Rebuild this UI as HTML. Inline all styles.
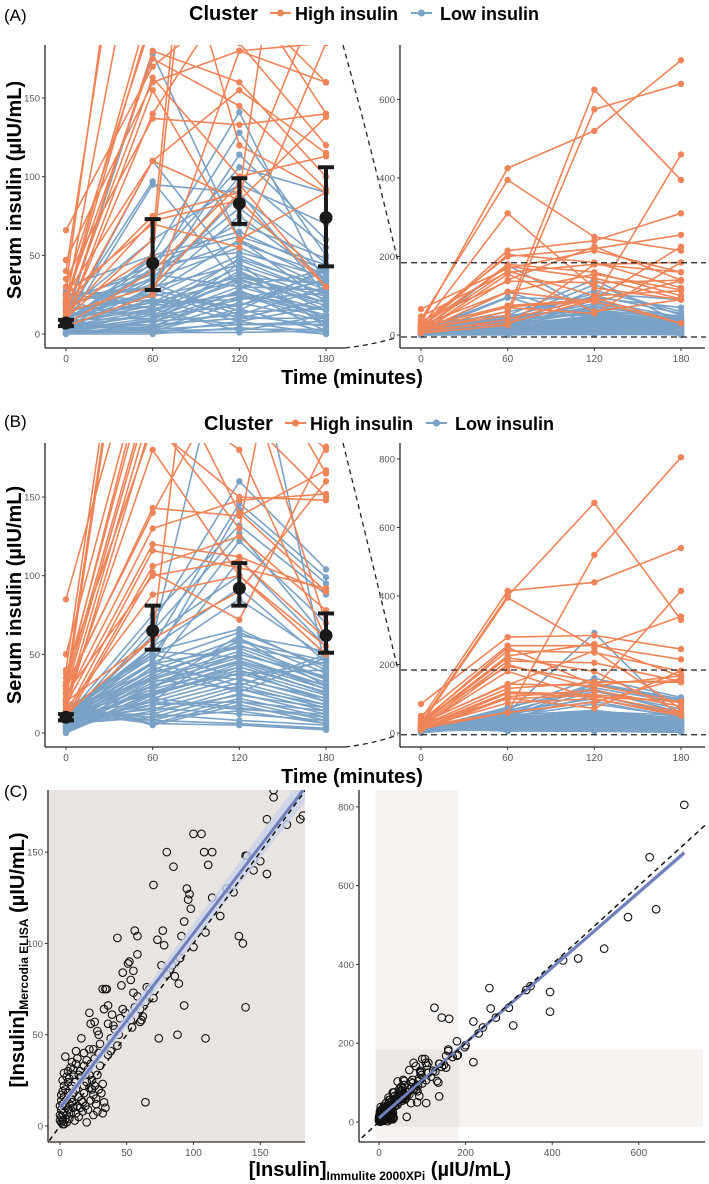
<!DOCTYPE html>
<html><head><meta charset="utf-8">
<style>
html,body{margin:0;padding:0;background:#fff;}
svg{display:block;font-family:"Liberation Sans",Arial,sans-serif;}
</style></head>
<body>
<svg id="fig" width="709" height="1184" viewBox="0 0 709 1184" xmlns="http://www.w3.org/2000/svg">
<defs>
<clipPath id="cAL"><rect x="46" y="45" width="299" height="302"/></clipPath>
<clipPath id="cAR"><rect x="401" y="45" width="305" height="302"/></clipPath>
<clipPath id="cBL"><rect x="46" y="443" width="299" height="303"/></clipPath>
<clipPath id="cBR"><rect x="401" y="443" width="305" height="303"/></clipPath>
<clipPath id="cCL"><rect x="49" y="790" width="256" height="351"/></clipPath>
<clipPath id="cCR"><rect x="360" y="790" width="346" height="351"/></clipPath>
</defs>

<text x="4" y="21" font-size="17">(A)</text>
<text x="4" y="427" font-size="17">(B)</text>
<text x="4" y="797" font-size="17">(C)</text>

<g>
  <text x="189" y="20" font-size="20" font-weight="bold">Cluster</text>
  <g>
    <line x1="270" y1="13" x2="291" y2="13" stroke="#ee8457" stroke-width="2"/><circle cx="280.5" cy="13" r="3.5" fill="#ee8457"/>
    <text x="295" y="20" font-size="18" font-weight="bold">High insulin</text>
  </g>
  <g>
    <line x1="411" y1="13" x2="432" y2="13" stroke="#7aa2c6" stroke-width="2"/><circle cx="421.5" cy="13" r="3.5" fill="#7aa2c6"/>
    <text x="440" y="20" font-size="18" font-weight="bold">Low insulin</text>
  </g>
</g>
<g>
  <text x="204" y="430" font-size="20" font-weight="bold">Cluster</text>
  <g>
    <line x1="285" y1="423" x2="306" y2="423" stroke="#ee8457" stroke-width="2"/><circle cx="295.5" cy="423" r="3.5" fill="#ee8457"/>
    <text x="310" y="430" font-size="18" font-weight="bold">High insulin</text>
  </g>
  <g>
    <line x1="426" y1="423" x2="447" y2="423" stroke="#7aa2c6" stroke-width="2"/><circle cx="436.5" cy="423" r="3.5" fill="#7aa2c6"/>
    <text x="455" y="430" font-size="18" font-weight="bold">Low insulin</text>
  </g>
</g>

<text transform="translate(21,190) rotate(-90)" text-anchor="middle" font-size="20" font-weight="bold">Serum insulin (µIU/mL)</text>
<text transform="translate(21,595) rotate(-90)" text-anchor="middle" font-size="20" font-weight="bold">Serum insulin (µIU/mL)</text>
<text x="352" y="384" text-anchor="middle" font-size="20" font-weight="bold">Time (minutes)</text>
<text x="352" y="783" text-anchor="middle" font-size="20" font-weight="bold">Time (minutes)</text>
<text transform="translate(24,960) rotate(-90)" text-anchor="middle" font-weight="bold"><tspan font-size="20">[Insulin]</tspan><tspan font-size="12" dy="4">Mercodia ELISA</tspan><tspan font-size="20" dy="-4"> (µIU/mL)</tspan></text>
<text x="380" y="1176" text-anchor="middle" font-weight="bold"><tspan font-size="20">[Insulin]</tspan><tspan font-size="12" dy="4">Immulite 2000XPi</tspan><tspan font-size="20" dy="-4"> (µIU/mL)</tspan></text>

<path d="M343,45 Q372,150 398,262" fill="none" stroke="#222" stroke-width="1.3" stroke-dasharray="5,4"/>
<path d="M345,348 Q372,345 398,337" fill="none" stroke="#222" stroke-width="1.3" stroke-dasharray="5,4"/>
<path d="M343,443 Q372,560 398,670" fill="none" stroke="#222" stroke-width="1.3" stroke-dasharray="5,4"/>
<path d="M345,747 Q372,744 398,735" fill="none" stroke="#222" stroke-width="1.3" stroke-dasharray="5,4"/>

<g id="root"></g>
</svg>

<script>
const timesA = [0, 60, 120, 180];
const highA = [[30,425,520,700],[40,395,250,215],[20,310,120,90],[10,60,625,395],[15,50,575,640],[20,215,240,310],[30,200,220,255],[66,170,215,160],[47,160,180,185],[35,137,133,140],[25,110,155,115],[20,75,90,460],[12,72,85,138],[22,175,145,92],[15,163,100,113],[8,155,60,90],[5,25,180,160],[10,110,85,30],[18,205,185,120],[12,180,160,100],[9,140,225,140],[6,40,95,30],[25,70,55,185],[14,30,90,225]];
const lowA = [[10,178,60,20],[8,110,40,15],[12,97,30,40],[6,95,90,25],[5,50,141,30],[10,40,128,50],[3,30,114,60],[8,45,106,90],[4,35,100,55],[15,60,95,70],[20,30,88,45],[25,28,75,35],[30,50,65,40],[22,40,58,38],[18,35,55,30],[12,25,50,28],[9,20,47,25],[7,18,42,22],[5,15,38,20],[4,12,35,18],[3,10,30,15],[2,8,27,12],[1,5,24,10],[0,3,20,8],[6,22,18,35],[8,28,15,42],[10,32,12,30],[14,26,10,22],[16,22,8,18],[11,18,25,12],[13,14,33,10],[9,10,40,6],[6,6,45,4],[4,4,28,2],[2,2,16,1],[1,1,8,0],[0,0,4,0],[3,8,12,5],[5,12,6,8],[7,16,2,12],[12,20,22,26],[15,24,36,32],[18,38,30,28],[20,44,52,36],[24,30,44,26],[28,20,34,20],[26,16,26,15],[8,48,62,44],[6,42,70,48],[10,36,80,38],[4,26,60,34],[2,14,48,30],[1,9,36,24],[0,4,14,16],[3,6,10,10],[5,3,6,6],[7,2,3,3],[9,1,1,2],[17,12,18,40],[21,8,22,34]];
const meanA = [7,45,83,74];
const loA = [5,28,70,43];
const hiA = [9,73,99,106];

const timesB = [0, 60, 120, 180];
const highB = [[40,415,440,540],[30,400,672,330],[20,60,520,805],[25,395,250,340],[85,280,285,245],[50,255,255,215],[35,240,235,180],[30,225,260,165],[20,210,205,150],[15,200,130,415],[38,195,150,148],[28,143,138,167],[22,130,148,152],[18,120,112,90],[12,116,105,92],[10,106,125,78],[8,102,72,182],[25,100,110,60],[15,88,100,55],[30,140,240,70],[12,60,90,160],[20,180,100,50],[32,250,140,90],[26,220,180,60]];
const lowB = [[10,60,292,40],[8,70,160,104],[5,55,146,99],[12,45,142,95],[10,75,132,88],[6,65,127,60],[14,50,122,70],[9,40,110,55],[7,62,100,50],[11,55,92,45],[13,48,85,48],[15,52,66,40],[12,45,64,42],[10,40,60,38],[8,38,56,35],[6,35,52,32],[5,32,48,30],[4,30,45,28],[3,28,42,26],[2,25,40,24],[1,22,38,22],[6,20,35,20],[8,18,32,18],[10,15,30,16],[12,12,28,14],[14,10,25,12],[16,8,22,10],[18,6,20,8],[20,5,18,6],[9,50,36,45],[7,45,30,50],[5,42,26,48],[4,38,55,44],[3,34,50,36],[2,30,46,30],[1,26,44,25],[0,24,40,20],[5,20,15,12],[7,16,12,8],[9,12,8,5],[11,8,6,3],[13,6,5,2],[6,28,62,52],[8,36,58,46],[10,44,54,34],[12,52,48,28],[14,40,34,22],[16,34,28,18],[4,14,24,16],[3,18,20,14],[2,22,16,10],[6,10,14,6],[8,26,38,40],[10,30,50,36],[12,20,60,30],[14,24,42,26]];
const meanB = [10,65,92,62];
const loB = [8,53,81,51];
const hiB = [12,81,108,76];

const immulite = [705,625,640,575,520,460,425,255,258,395,395,310,218,240,128,145,162,180,198,160,182,218,155,140,100,108,80,85,70,106,114,111,155,139,160,180,95,97,96,98,93,91,109,114,134,137,139,109,88,74,93,89,86,80,76,77,73,78,56,58,43,58,51,52,47,55,53,55,46,32,34,35,65,61,60,58,56,60,54,64,36,33,22,26,23,28,29,36,39,40,47,44,43,38,36,30,25,22,16,12,4,13,20,18,9,8,10,14,16,24,28,30,32,26,24,22,27,33,34,32,28,25,20,17,14,12,10,9,8,6,4,3,2,1,2,3,1,2,4,5,6,7,5,3,2,1,0,1,3,5,7,8,10,12,14,16,18,20,22,18,15,11,9,7,6,4,2,1,0,0,2,11,13,15,17,19,21,23,25,27,29,31,21,19,23,26,29,18,12,10,6,5,3,38,41,45,49,53,62,70,67,64,84,90,100,120,125,130,145,150,170,200,230,270,300,340,350];
const mercodia = [805,672,540,520,440,415,410,340,288,330,280,245,255,240,290,265,262,205,190,180,170,152,168,148,160,150,150,142,132,160,150,143,138,148,184,168,130,127,124,119,112,104,106,125,104,100,65,48,50,48,66,78,82,83,88,107,102,99,107,104,103,94,89,90,84,85,80,73,77,75,75,75,76,58,57,71,65,64,54,13,66,64,62,57,56,52,50,56,61,55,64,50,44,41,39,45,42,42,48,41,38,37,36,33,35,32,31,28,27,25,28,33,23,22,20,21,15,13,10,7,8,6,2,8,5,7,10,13,15,18,20,22,25,17,12,8,5,3,4,6,9,12,14,16,19,9,6,2,1,2,4,7,18,20,16,14,18,24,28,22,30,24,22,26,24,11,7,14,11,3,1,3,11,10,13,11,9,14,17,12,20,18,31,28,34,37,40,40,34,28,30,27,29,48,53,59,62,58,60,70,75,68,88,92,98,115,130,128,140,145,165,195,225,265,290,335,345];
const fitIntercept = 10;
const fitSlope = 0.955;

const tX = t => 66 + t * 260 / 180;
const tXR = t => 421 + t * 260 / 180;
const yAL = v => 334 - v * 1.573;
const yAR = v => 335 - v * 0.3925;
const yBL = v => 733 - v * 1.573;
const yBR = v => 733 - v * 0.3425;
const cxL = v => 60 + v * 1.335;
const cyL = v => 1126 - v * 1.826;
const cxR = v => 379 + v * 0.433;
const cyR = v => 1122 - v * 0.394;

const NS = 'http://www.w3.org/2000/svg';
const root = document.getElementById('root');
function el(tag, parent) { const e = document.createElementNS(NS, tag); parent.appendChild(e); return e; }
function set(e, o) { for (const k in o) e.setAttribute(k, o[k]); return e; }

const ORANGE = '#ee8457', BLUE = '#7aa2c6';

function axes(g, x0, x1, yBase, yTop, xticks, xfn, yticks, yfn, nameP) {
  const ax = el('g', g);
  
  
  set(el('line', ax), {x1: x0, y1: yTop, x2: x0, y2: yBase, stroke: '#222', 'stroke-width': 1.3});
  set(el('line', ax), {x1: x0, y1: yBase, x2: x1, y2: yBase, stroke: '#222', 'stroke-width': 1.3});
  xticks.forEach(t => {
    const x = xfn(t);
    set(el('line', ax), {x1: x, y1: yBase, x2: x, y2: yBase + 3, stroke: '#333'});
    const tx = el('text', ax);
    
    
    set(tx, {x: x, y: yBase + 14, 'text-anchor': 'middle', 'font-size': 10, fill: '#555'});
    tx.textContent = t;
  });
  yticks.forEach(t => {
    const y = yfn(t);
    set(el('line', ax), {x1: x0 - 3, y1: y, x2: x0, y2: y, stroke: '#333'});
    const tx = el('text', ax);
    
    
    set(tx, {x: x0 - 5, y: y + 3.5, 'text-anchor': 'end', 'font-size': 9.5, fill: '#555'});
    tx.textContent = t;
  });
}

function spaghetti(times, high, low, xfn, yfn, clip, nameP, withMeans, mean, lo, hi) {
  const g = el('g', root);
  
  
  g.setAttribute('clip-path', 'url(#' + clip + ')');
  const draw = (rows, col, nm) => rows.forEach(r => {
    const pl = el('polyline', g);
    
    
    set(pl, {points: r.map((v, i) => xfn(times[i]) + ',' + yfn(v)).join(' '), fill: 'none', stroke: col, 'stroke-width': 1.6});
    r.forEach((v, i) => {
      const c = el('circle', g);
      
      
      set(c, {cx: xfn(times[i]), cy: yfn(v), r: 3.2, fill: col});
    });
  });
  draw(low, BLUE, 'low-insulin');
  draw(high, ORANGE, 'high-insulin');
  if (withMeans) {
    mean.forEach((m, i) => {
      const x = xfn(times[i]);
      const eb = el('g', g);
      
      
      set(el('line', eb), {x1: x, y1: yfn(lo[i]), x2: x, y2: yfn(hi[i]), stroke: '#1a1a1a', 'stroke-width': 4});
      set(el('line', eb), {x1: x - 8, y1: yfn(lo[i]), x2: x + 8, y2: yfn(lo[i]), stroke: '#1a1a1a', 'stroke-width': 4});
      set(el('line', eb), {x1: x - 8, y1: yfn(hi[i]), x2: x + 8, y2: yfn(hi[i]), stroke: '#1a1a1a', 'stroke-width': 4});
      set(el('circle', eb), {cx: x, cy: yfn(m), r: 6.5, fill: '#1a1a1a'});
    });
  }
}

axes(root, 45, 345, 348, 45, timesA, tX, [0, 50, 100, 150], yAL, 'panel-a-left');
spaghetti(timesA, highA, lowA, tX, yAL, 'cAL', 'panel-a-left', true, meanA, loA, hiA);
axes(root, 400, 705, 348, 45, timesA, tXR, [0, 200, 400, 600], yAR, 'panel-a-right');
spaghetti(timesA, highA, lowA, tXR, yAR, 'cAR', 'panel-a-right', false);
axes(root, 45, 345, 747, 443, timesB, tX, [0, 50, 100, 150], yBL, 'panel-b-left');
spaghetti(timesB, highB, lowB, tX, yBL, 'cBL', 'panel-b-left', true, meanB, loB, hiB);
axes(root, 400, 705, 747, 443, timesB, tXR, [0, 200, 400, 600, 800], yBR, 'panel-b-right');
spaghetti(timesB, highB, lowB, tXR, yBR, 'cBR', 'panel-b-right', false);

[[yAR, 'a'], [yBR, 'b']].forEach(([f, p]) => {
  [184, -5].forEach(v => {
    const l = el('line', root);
    
    
    set(l, {x1: 401, y1: f(v), x2: 706, y2: f(v), stroke: '#222', 'stroke-width': 1.3, 'stroke-dasharray': '6,4'});
  });
});

const bgL = el('rect', root);


set(bgL, {x: 49, y: 790, width: 256, height: 351, fill: '#e9e4e0'});
const bandV = el('rect', root);


set(bandV, {x: cxR(-8), y: 790, width: cxR(184) - cxR(-8), height: 351, fill: '#f5f2f0'});
const bandH = el('rect', root);


set(bandH, {x: cxR(-8), y: cyR(184), width: 703 - cxR(-8), height: cyR(-12) - cyR(184), fill: '#f5f2f0'});
const bandO = el('rect', root);


set(bandO, {x: cxR(-8), y: cyR(184), width: cxR(184) - cxR(-8), height: cyR(-12) - cyR(184), fill: '#ece7e3'});

function scatter(xfn, yfn, clip, nameP, xmin, xmax) {
  const g = el('g', root);
  
  
  g.setAttribute('clip-path', 'url(#' + clip + ')');
  immulite.forEach((v, i) => {
    const c = el('circle', g);
    
    
    set(c, {cx: xfn(v), cy: yfn(mercodia[i]), r: 3.8, fill: 'none', stroke: '#111', 'stroke-width': 1.1});
  });
  const band = el('polygon', g);
  
  
  const f = v => fitIntercept + fitSlope * v;
  set(band, {points: [xfn(0) + ',' + yfn(f(0) + 2), xfn(xmax) + ',' + yfn(f(xmax) + 8), xfn(xmax) + ',' + yfn(f(xmax) - 8), xfn(0) + ',' + yfn(f(0) - 2)].join(' '), fill: '#c9d2ea', opacity: 0.8});
  const fit = el('line', g);
  
  
  set(fit, {x1: xfn(0), y1: yfn(f(0)), x2: xfn(xmax), y2: yfn(f(xmax)), stroke: '#6f80bb', 'stroke-width': 3});
  const id = el('line', g);
  
  
  set(id, {x1: xfn(xmin), y1: yfn(xmin), x2: xfn(xmax + 60), y2: yfn(xmax + 60), stroke: '#111', 'stroke-width': 1.5, 'stroke-dasharray': '5,4'});
}
scatter(cxL, cyL, 'cCL', 'panel-c-left', -12, 190);
scatter(cxR, cyR, 'cCR', 'panel-c-right', -40, 705);
axes(root, 48, 305, 1142, 790, [0, 50, 100, 150], cxL, [0, 50, 100, 150], cyL, 'panel-c-left');
axes(root, 359, 705, 1142, 790, [0, 200, 400, 600], cxR, [0, 200, 400, 600, 800], cyR, 'panel-c-right');
</script>
</body></html>
